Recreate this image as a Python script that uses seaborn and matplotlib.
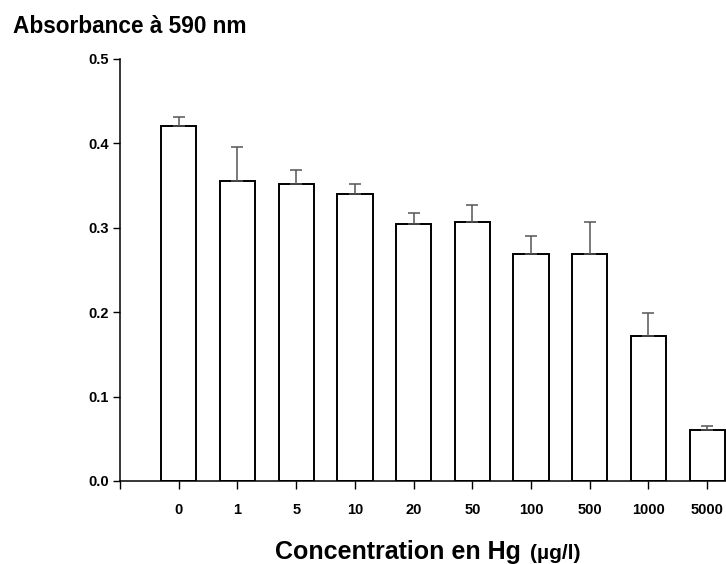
import numpy as np
import pandas as pd
import matplotlib
matplotlib.use("Agg")
import matplotlib.pyplot as plt
import seaborn as sns

# Data
concentrations = ["0", "1", "5", "10", "20", "50", "100", "500", "1000", "5000"]
absorbance = [0.421, 0.355, 0.352, 0.340, 0.305, 0.307, 0.269, 0.269, 0.172, 0.061]
err_upper = [0.010, 0.041, 0.017, 0.012, 0.012, 0.020, 0.021, 0.038, 0.027, 0.004]
y_ticks = [0.0, 0.1, 0.2, 0.3, 0.4, 0.5]

sns.set_style("ticks")
plt.rcParams["font.family"] = ["Liberation Sans", "DejaVu Sans"]
plt.rcParams["text.color"] = "black"
plt.rcParams["xtick.color"] = "black"
plt.rcParams["ytick.color"] = "black"

df = pd.DataFrame({"conc": concentrations, "abs": absorbance})

fig = plt.figure(figsize=(7.26, 5.64), dpi=100)
W, H = 726, 564
ax = fig.add_axes([120 / W, 1 - 481 / H, (W - 120) / W, (481 - 59) / H])

sns.barplot(data=df, x="conc", y="abs", order=concentrations, color="white",
            edgecolor="black", linewidth=1.4, width=0.6, ax=ax, errorbar=None,
            saturation=1)

xs = np.arange(len(concentrations))
ax.errorbar(xs, absorbance, yerr=[np.zeros(len(err_upper)), err_upper],
            fmt="none", ecolor="#555555", elinewidth=1.1, capsize=4.5,
            capthick=1.1, zorder=1)

ax.set_xlim(-1, 9.32)
ax.set_ylim(0, 0.5)
ax.set_xticks(list(range(-1, len(concentrations))))
ax.set_xticklabels([""] + concentrations, fontsize=10.5, fontweight="bold",
                   color="black")
ax.set_yticks(y_ticks)
ax.set_yticklabels([f"{v:.1f}" for v in y_ticks], fontsize=10.5,
                   fontweight="bold", color="black")
ax.tick_params(axis="x", direction="out", length=6, width=1, pad=10)
ax.tick_params(axis="y", direction="out", length=5, width=1, pad=3)
ax.set_xlabel("")
ax.set_ylabel("")
sns.despine(ax=ax, top=True, right=True)
for s in ["left", "bottom"]:
    ax.spines[s].set_linewidth(1.1)
    ax.spines[s].set_color("black")

fig.text(13 / W, 1 - 33 / H, "Absorbance à 590 nm", fontsize=16.3,
         fontweight="bold", ha="left", va="baseline", color="black")
fig.text(275 / W, 1 - 559 / H, "Concentration en Hg", fontsize=18,
         fontweight="bold", ha="left", va="baseline", color="black")
fig.text(530 / W, 1 - 559 / H, "(µg/l)", fontsize=15,
         fontweight="bold", ha="left", va="baseline", color="black")

fig.savefig("out.png", dpi=100)
